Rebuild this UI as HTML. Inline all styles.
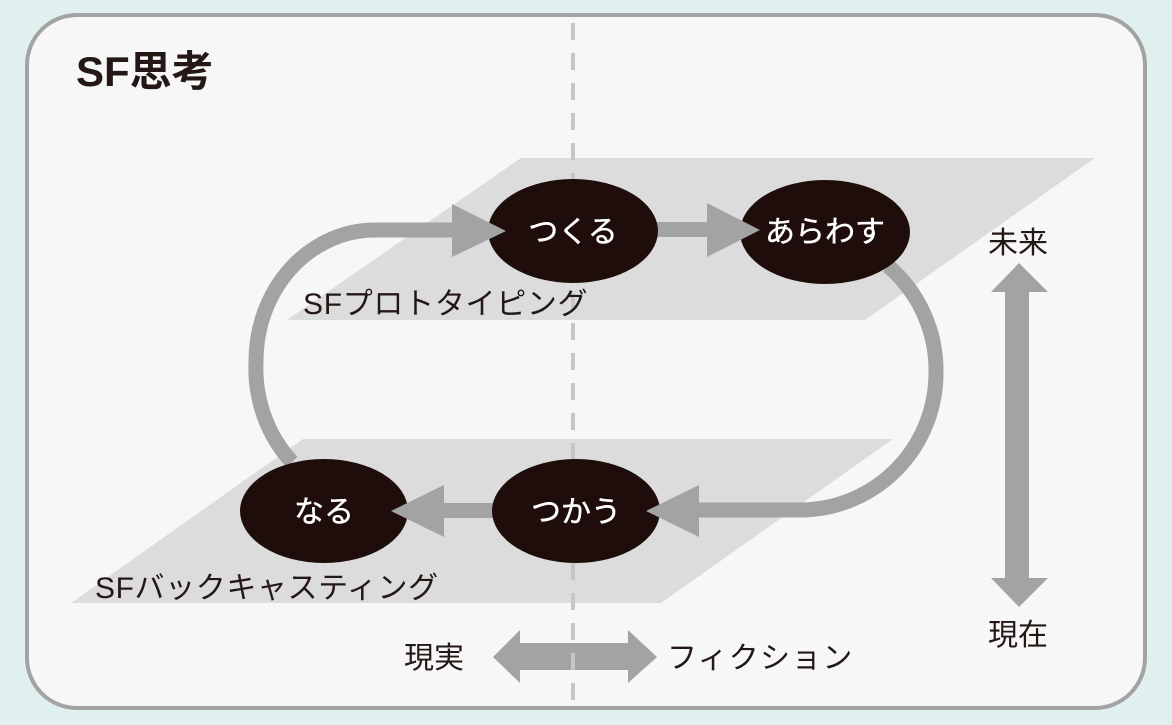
<!DOCTYPE html>
<html>
<head>
<meta charset="utf-8">
<style>
  html, body { margin: 0; padding: 0; background: #e0f0ef; }
  svg { display: block; }
  text { font-family: "Liberation Sans", "Noto Sans CJK JP", sans-serif; }
</style>
</head>
<body>
<svg width="1172" height="725" viewBox="0 0 1172 725" xmlns="http://www.w3.org/2000/svg">
  <rect x="0" y="0" width="1172" height="725" fill="#e0f0ef"/>
  <!-- card -->
  <rect x="27" y="15" width="1118" height="693" rx="50" ry="50" fill="#f7f7f7" stroke="#a3a3a3" stroke-width="4"/>

  <!-- planes -->
  <polygon points="521,158 1095,158 865,320 287,320" fill="#dcdcdc"/>
  <polygon points="303,439 893,439 661,603 71,603" fill="#dcdcdc"/>

  <!-- loops -->
  <path d="M 292 462 A 119 131 0 0 1 256 361 A 119 131 0 0 1 375 230 L 455 230" fill="none" stroke="#a3a3a3" stroke-width="15"/>
  <path d="M 888 266 A 136 137 0 0 1 936 373 A 136 137 0 0 1 800 510 L 699 510" fill="none" stroke="#a3a3a3" stroke-width="15"/>

  <!-- straight shafts -->
  <rect x="650" y="222" width="60" height="15" fill="#a3a3a3"/>
  <rect x="441" y="503" width="60" height="15" fill="#a3a3a3"/>

  <!-- vertical double arrow -->
  <rect x="1005" y="289" width="24" height="292" fill="#a3a3a3"/>
  <polygon points="1019,263 1048,292 991,292" fill="#a3a3a3"/>
  <polygon points="991,578 1048,578 1019,607" fill="#a3a3a3"/>

  <!-- horizontal double arrow -->
  <rect x="517" y="643" width="114" height="27" fill="#a3a3a3"/>
  <polygon points="493,657 520,630 520,683" fill="#a3a3a3"/>
  <polygon points="628,630 657,657 628,683" fill="#a3a3a3"/>

  <!-- dashed line -->
  <line x1="573" y1="23" x2="573" y2="700" stroke="#c6c6c6" stroke-width="4" stroke-dasharray="17 13"/>

  <!-- ellipses -->
  <ellipse cx="573" cy="231" rx="85" ry="52" fill="#1f0d0b"/>
  <ellipse cx="825" cy="232" rx="85" ry="52" fill="#1f0d0b"/>
  <ellipse cx="324" cy="511" rx="84" ry="52" fill="#1f0d0b"/>
  <ellipse cx="576" cy="511" rx="84" ry="52" fill="#1f0d0b"/>

  <!-- arrowheads on top -->
  <polygon points="452,204 506,231 452,257" fill="#a3a3a3"/>
  <polygon points="707,203 760,230 707,257" fill="#a3a3a3"/>
  <polygon points="699,485 646,511 699,537" fill="#a3a3a3"/>
  <polygon points="444,485 391,511 444,537" fill="#a3a3a3"/>

  <!-- node labels -->
  <text x="573" y="242" font-size="30" fill="#ffffff" stroke="#ffffff" stroke-width="0.4" text-anchor="middle">つくる</text>
  <text x="825" y="242" font-size="30" fill="#ffffff" stroke="#ffffff" stroke-width="0.4" text-anchor="middle">あらわす</text>
  <text x="324" y="522" font-size="30" fill="#ffffff" stroke="#ffffff" stroke-width="0.4" text-anchor="middle">なる</text>
  <text x="576" y="522" font-size="30" fill="#ffffff" stroke="#ffffff" stroke-width="0.4" text-anchor="middle">つかう</text>

  <!-- title & labels -->
  <text x="76" y="86" font-size="42" font-weight="bold" fill="#231815">SF思考</text>
  <text x="303" y="314" font-size="30" letter-spacing="0.7" fill="#231815">SFプロトタイピング</text>
  <text x="95" y="598" font-size="30" letter-spacing="0.6" fill="#231815">SFバックキャスティング</text>
  <text x="1018" y="253" font-size="30" fill="#231815" text-anchor="middle">未来</text>
  <text x="1018" y="645" font-size="30" fill="#231815" text-anchor="middle">現在</text>
  <text x="434" y="668" font-size="30" fill="#231815" text-anchor="middle">現実</text>
  <text x="667" y="668" font-size="30" letter-spacing="1.2" fill="#231815">フィクション</text>
</svg>
</body>
</html>
